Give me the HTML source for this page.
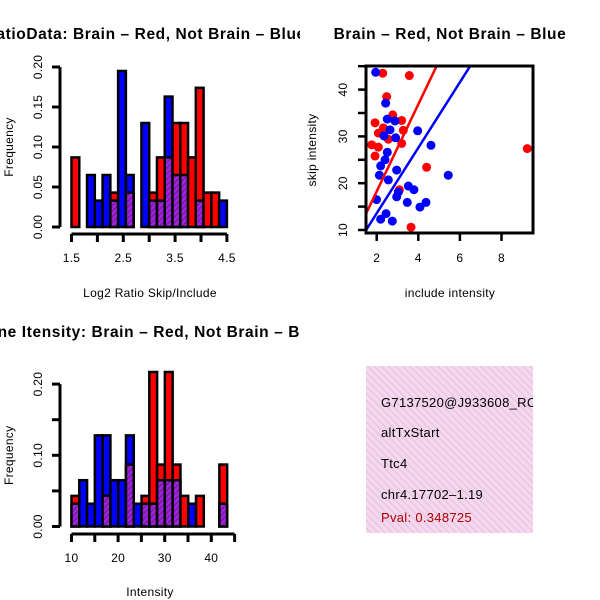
<!DOCTYPE html>
<html><head><meta charset="utf-8"><style>
body{margin:0;background:#fff}
svg{display:block;font-family:"Liberation Sans",sans-serif}
svg text{letter-spacing:0.3px}
</style></head><body>
<svg id="chart" width="600" height="600" viewBox="0 0 600 600">
<defs>
<pattern id="hatchP" width="4" height="4" patternUnits="userSpaceOnUse" patternTransform="rotate(45)"><rect width="4" height="4" fill="#a020f0"/><rect width="1.5" height="4" fill="#7a1f8a"/></pattern>
<pattern id="hatchBox" width="5" height="5" patternUnits="userSpaceOnUse" patternTransform="rotate(-45)"><rect width="5" height="5" fill="#f6d6f0"/><rect width="1.5" height="5" fill="#e6c9dc"/></pattern>
<clipPath id="c1"><rect x="0" y="0" width="300" height="300"/></clipPath>
<clipPath id="c2"><rect x="300" y="0" width="300" height="300"/></clipPath>
<clipPath id="c3"><rect x="0" y="300" width="300" height="300"/></clipPath>
<clipPath id="cs"><rect x="366" y="66" width="167" height="167"/></clipPath>
<clipPath id="cb"><rect x="366" y="366" width="167" height="167"/></clipPath>
</defs>
<g id="g1" clip-path="url(#c1)"></g>
<g id="g2" clip-path="url(#c2)"></g>
<g id="g3" clip-path="url(#c3)"></g>
<g id="g4">
<rect x="366" y="366" width="167" height="167" fill="url(#hatchBox)"/>
<g clip-path="url(#cb)" font-size="13" style="letter-spacing:0.5px">
<text x="381" y="407">G7137520@J933608_RC</text>
<text x="381" y="437">altTxStart</text>
<text x="381" y="468">Ttc4</text>
<text x="381" y="499">chr4.17702–1.19</text>
<text x="381" y="522" fill="#b00000">Pval: 0.348725</text>
</g>
</g>
</svg>
<script>
// Top histogram (Log2 ratio)
const ratioBinStart = 1.5, ratioBinWidth = 0.15;
const ratioRed  = [0.087,0,0,0,0,0.043,0,0.043,0,0,0.043,0.087,0.087,0.13,0.13,0.087,0.174,0.043,0.043,0];
const ratioBlue = [0,0,0.065,0.033,0.065,0.033,0.195,0.065,0,0.13,0.033,0.033,0.163,0.065,0.065,0,0.033,0,0,0.033];
const ratioXTicks = [1.5,2,2.5,3,3.5,4,4.5];
const ratioXLabels = ["1.5","","2.5","","3.5","","4.5"];
const ratioYTicks = [0,0.05,0.1,0.15,0.2];
const ratioYLabels = ["0.00","0.05","0.10","0.15","0.20"];
// Bottom histogram (Intensity)
const intBinStart = 10, intBinWidth = 1.67;
const intRed  = [0.043,0,0,0,0.043,0,0,0.087,0,0.043,0.217,0.087,0.217,0.087,0.043,0,0.043,0,0,0.087];
const intBlue = [0.032,0.065,0.032,0.128,0.128,0.065,0.065,0.128,0.032,0.032,0.032,0.065,0.065,0.065,0,0.032,0,0,0,0.032];
const intXTicks = [10,15,20,25,30,35,40,45];
const intXLabels = ["10","","20","","30","","40",""];
const intYTicks = [0,0.05,0.1,0.15,0.2];
const intYLabels = ["0.00","","0.10","","0.20"];
// Scatter
const redX = [2.29,3.57,2.48,2.77,1.92,3.20,2.08,2.32,2.56,3.28,3.20,1.76,2.08,1.92,9.24,4.4,3.09,3.65];
const redY = [43.5,43.0,38.5,34.6,32.9,33.4,30.7,31.8,29.4,31.3,28.5,28.2,27.7,25.8,27.4,23.4,18.6,10.6];
const blueX = [1.95,2.43,2.51,2.88,2.64,2.35,2.91,3.97,4.61,2.51,2.40,2.19,2.96,2.13,2.56,5.44,3.52,3.79,3.04,2.96,1.99,3.47,4.37,4.08,2.45,2.19,2.75];
const blueY = [43.7,37.1,33.7,33.3,31.4,30.1,29.7,31.2,28.1,26.6,25.0,23.7,22.8,21.7,20.7,21.7,19.4,18.6,18.1,17.1,16.5,15.9,15.9,14.9,13.5,12.3,11.9];
const redFit = [-0.35, 9.3];   // intercept, slope
const blueFit = [-0.43, 7.0];
const scatXTicks = [2,4,6,8];
const scatYTicks = [10,15,20,25,30,35,40,45];
const scatYLabels = ["10","","20","","30","","40",""];

const NS="http://www.w3.org/2000/svg";
function mk(parent,tag,attrs,txt){const e=document.createElementNS(NS,tag);for(const k in attrs)e.setAttribute(k,attrs[k]);if(txt!==undefined)e.textContent=txt;parent.appendChild(e);return e;}
const TITLE_STYLE='letter-spacing:0.6px';

function hist(g,o){
  const sx=v=>o.x0+(v-o.xmin)*o.kx, sy=v=>o.y0-v*o.ky;
  const t=mk(g,'text',{x:o.titleX,y:o.titleY,'text-anchor':'middle','font-size':15.5,'font-weight':'bold',style:TITLE_STYLE},o.title);
  
  
  for(let i=0;i<o.red.length;i++){
    const a=o.start+i*o.w, b=a+o.w, r=o.red[i], bl=o.blue[i];
    const hi=Math.max(r,bl), lo=Math.min(r,bl);
    if(hi<=0) continue;
    const bar=mk(g,'rect',{x:sx(a),y:sy(hi),width:sx(b)-sx(a),height:sy(0)-sy(hi),fill:r>=bl?'#ff0000':'#0000ff',stroke:'#000','stroke-width':2.5});
    
    
    if(lo>0){
      const ov=mk(g,'rect',{x:sx(a),y:sy(lo),width:sx(b)-sx(a),height:sy(0)-sy(lo),fill:'url(#hatchP)',stroke:'#000','stroke-width':2.5});
      
      
    }
  }
  const ax=mk(g,'g',{stroke:'#000','stroke-width':3,fill:'none'});
  
  
  mk(ax,'line',{x1:sx(o.xt[0]),x2:sx(o.xt[o.xt.length-1]),y1:o.axY,y2:o.axY});
  o.xt.forEach((v,i)=>{mk(ax,'line',{x1:sx(v),x2:sx(v),y1:o.axY,y2:o.axY+8});
    if(o.xl[i]){const l=mk(g,'text',{x:sx(v),y:o.axY+28,'text-anchor':'middle','font-size':12},o.xl[i]);
      
      }});
  const ay=mk(g,'g',{stroke:'#000','stroke-width':3,fill:'none'});
  
  
  mk(ay,'line',{x1:o.axX,x2:o.axX,y1:sy(o.yt[0]),y2:sy(o.yt[o.yt.length-1])});
  o.yt.forEach((v,i)=>{mk(ay,'line',{x1:o.axX,x2:o.axX-8,y1:sy(v),y2:sy(v)});
    if(o.yl[i]){const l=mk(g,'text',{x:o.axX-18,y:sy(v),'text-anchor':'middle','font-size':12,transform:`rotate(-90 ${o.axX-18} ${sy(v)})`},o.yl[i]);
      
      }});
  const xt=mk(g,'text',{x:150,y:o.xTitleY,'text-anchor':'middle','font-size':12},o.xTitle);
  
  
  const yc=(sy(o.yt[0])+sy(o.yt[o.yt.length-1]))/2;
  const yt=mk(g,'text',{x:13,y:yc,'text-anchor':'middle','font-size':12,transform:`rotate(-90 13 ${yc})`},'Frequency');
  
  
}

hist(document.getElementById('g1'),{key:'ratio-hist',title:'Log2 RatioData: Brain \u2013 Red, Not Brain \u2013 Blue',titleX:123,titleY:39,
  red:ratioRed,blue:ratioBlue,start:ratioBinStart,w:ratioBinWidth,xmin:1.5,x0:71.5,kx:51.8,y0:227,ky:800,
  xt:ratioXTicks,xl:ratioXLabels,yt:ratioYTicks,yl:ratioYLabels,axY:234,axX:60,xTitle:'Log2 Ratio Skip/Include',xTitleY:297});
hist(document.getElementById('g3'),{key:'intensity-hist',title:'Gene Itensity: Brain \u2013 Red, Not Brain \u2013 Blue',titleX:150,titleY:337,
  red:intRed,blue:intBlue,start:intBinStart,w:intBinWidth,xmin:10,x0:71.5,kx:4.66,y0:526.5,ky:712,
  xt:intXTicks,xl:intXLabels,yt:intYTicks,yl:intYLabels,axY:534,axX:60,xTitle:'Intensity',xTitleY:596});

// scatter
(function(){
  const g=document.getElementById('g2');
  const sx=v=>376.7+(v-2)*20.8, sy=v=>230-(v-10)*4.68;
  const t=mk(g,'text',{x:450,y:39,'text-anchor':'middle','font-size':15.5,'font-weight':'bold',style:TITLE_STYLE},'Brain \u2013 Red, Not Brain \u2013 Blue');
  
  
  const pg=mk(g,'g',{'clip-path':'url(#cs)'});
  redX.forEach((x,i)=>{const c=mk(pg,'circle',{cx:sx(x),cy:sy(redY[i]),r:4.5,fill:'#ff0000'});
    
    });
  blueX.forEach((x,i)=>{const c=mk(pg,'circle',{cx:sx(x),cy:sy(blueY[i]),r:4.5,fill:'#0000ff'});
    
    });
  [[redFit,'#ff0000','brain-fit-line'],[blueFit,'#0000ff','not-brain-fit-line']].forEach(([f,col,nm])=>{
    const l=mk(pg,'line',{x1:sx(0),y1:sy(f[0]),x2:sx(12),y2:sy(f[0]+f[1]*12),stroke:col,'stroke-width':2.5});
    
    });
  const box=mk(g,'rect',{x:366,y:66,width:167,height:167,fill:'none',stroke:'#000','stroke-width':3});
  
  
  scatXTicks.forEach(v=>{mk(g,'line',{x1:sx(v),x2:sx(v),y1:233,y2:241,stroke:'#000','stroke-width':2.5});
    const l=mk(g,'text',{x:sx(v),y:262,'text-anchor':'middle','font-size':12},String(v));
    
    });
  scatYTicks.forEach((v,i)=>{mk(g,'line',{x1:366,x2:358,y1:sy(v),y2:sy(v),stroke:'#000','stroke-width':2.5});
    if(scatYLabels[i]){const l=mk(g,'text',{x:347,y:sy(v),'text-anchor':'middle','font-size':12,transform:`rotate(-90 347 ${sy(v)})`},scatYLabels[i]);
      
      }});
  const xt=mk(g,'text',{x:450,y:297,'text-anchor':'middle','font-size':12},'include intensity');
  
  
  const yt=mk(g,'text',{x:316,y:150,'text-anchor':'middle','font-size':12,transform:'rotate(-90 316 150)'},'skip intensity');
  
  
})();
</script>
</body></html>
